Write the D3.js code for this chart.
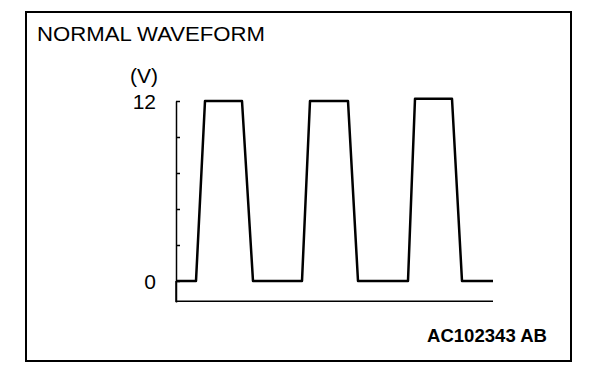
<!DOCTYPE html>
<html>
<head>
<meta charset="utf-8">
<script src="https://cdn.jsdelivr.net/npm/d3@7"></script>
<style>
  body { margin: 0; background: #fff; }
  text { font-family: "Liberation Sans", Arial, sans-serif; fill: #000; }
</style>
</head>
<body>
<div id="chart"></div>
<script>
// waveform samples: time (arbitrary units) and voltage
const times = [0, 2.0, 2.9, 6.6, 7.7, 12.6, 13.4, 17.2, 18.2, 23.2, 23.9, 27.6, 28.6, 31.7];
const volts = [0, 0, 12, 12, 0, 0, 12, 12, 0, 0, 12.15, 12.15, 0, 0];
const voltTicks = [0, 2.4, 4.8, 7.2, 9.6, 12];
const voltLabels = [0, 12];

const W = 608, H = 386;

const svg = d3.select("#chart")
  .append("svg")
  .attr("width", W)
  .attr("height", H);

// outer frame
svg.append("rect")
  .attr("x", 26).attr("y", 12)
  .attr("width", 545).attr("height", 349)
  .attr("fill", "none")
  .attr("stroke", "#000")
  .attr("stroke-width", 2);

const x = d3.scaleLinear().domain([0, 31.7]).range([176, 493]);
const y = d3.scaleLinear().domain([-1.4, 12]).range([302, 101]);

// vertical axis with inward ticks
svg.append("g")
  .attr("transform", `translate(${x(0)},0)`)
  .call(d3.axisRight(y).tickValues(voltTicks).tickSize(4).tickSizeOuter(0).tickFormat(""))
  .call(g => g.select(".domain").attr("stroke-width", 1.5))
  .call(g => g.selectAll(".tick line").attr("stroke-width", 1.5));

// extend axis down to base line
svg.append("line")
  .attr("x1", x(0)).attr("x2", x(0))
  .attr("y1", y(0)).attr("y2", y(-1.4))
  .attr("stroke", "#000").attr("stroke-width", 1.5);

// base (time) line
svg.append("line")
  .attr("x1", x(0)).attr("x2", x(31.7))
  .attr("y1", y(-1.35)).attr("y2", y(-1.35))
  .attr("stroke", "#000").attr("stroke-width", 1.5);

// voltage labels
svg.selectAll(".vlabel")
  .data(voltLabels)
  .enter().append("text")
  .attr("class", "vlabel")
  .attr("x", 156)
  .attr("y", d => y(d) + 7.5)
  .attr("text-anchor", "end")
  .attr("font-size", 21)
  .text(d => d);

svg.append("text")
  .attr("x", 144).attr("y", 83)
  .attr("text-anchor", "middle")
  .attr("font-size", 21)
  .text("(V)");

// waveform
const pts = times.map((t, i) => ({ t, v: volts[i] }));
const line = d3.line().x(d => x(d.t)).y(d => y(d.v));
svg.append("path")
  .datum(pts)
  .attr("d", line)
  .attr("fill", "none")
  .attr("stroke", "#000")
  .attr("stroke-width", 2.5)
  .attr("stroke-linejoin", "round");

// titles
svg.append("text")
  .attr("x", 37).attr("y", 41)
  .attr("font-size", 20)
  .attr("textLength", 228)
  .attr("lengthAdjust", "spacingAndGlyphs")
  .text("NORMAL WAVEFORM");

svg.append("text")
  .attr("x", 427).attr("y", 342)
  .attr("font-size", 19)
  .attr("font-weight", "bold")
  .attr("textLength", 120)
  .attr("lengthAdjust", "spacingAndGlyphs")
  .text("AC102343 AB");
</script>
</body>
</html>
